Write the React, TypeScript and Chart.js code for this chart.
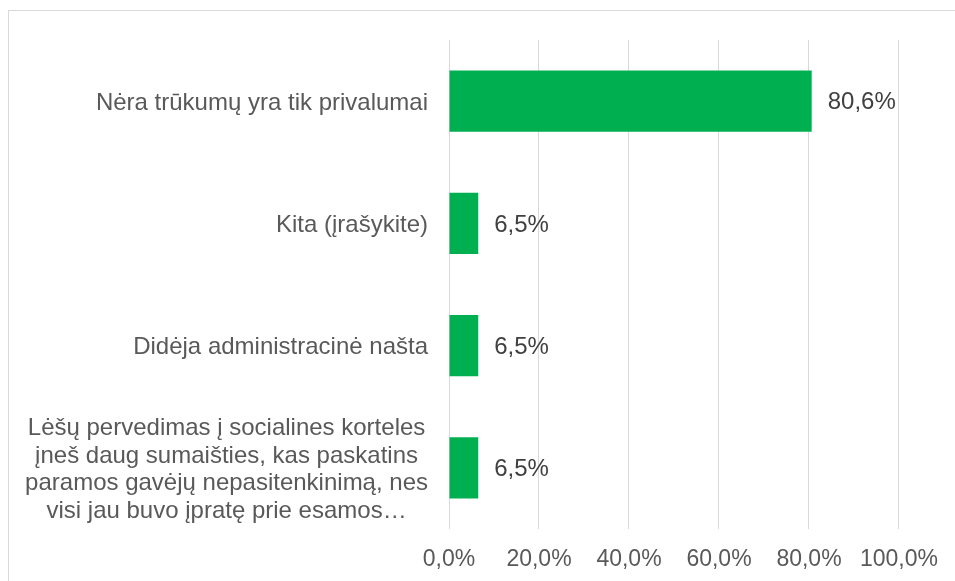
import React, { useEffect, useRef } from "react";
import { Chart, registerables } from "chart.js";

Chart.register(...registerables);

const categories: string[][] = [
  ["Nėra trūkumų yra tik privalumai"],
  ["Kita (įrašykite)"],
  ["Didėja administracinė našta"],
  [
    "Lėšų pervedimas į socialines korteles",
    "įneš daug sumaišties, kas paskatins",
    "paramos gavėjų nepasitenkinimą, nes",
    "visi jau buvo įpratę prie esamos…",
  ],
];
const values: number[] = [80.6, 6.5, 6.5, 6.5];
const valueLabels: string[] = ["80,6%", "6,5%", "6,5%", "6,5%"];
const tickLabels: string[] = ["0,0%", "20,0%", "40,0%", "60,0%", "80,0%", "100,0%"];

const FONT = "'Liberation Sans', Arial, sans-serif";

const labelPlugin = {
  id: "customLabels",
  afterDatasetsDraw(chart: any) {
    const { ctx } = chart;
    const y = chart.scales.y;
    const meta = chart.getDatasetMeta(0);
    ctx.save();
    // value labels
    ctx.font = `24px ${FONT}`;
    ctx.fillStyle = "#404040";
    ctx.textAlign = "left";
    ctx.textBaseline = "middle";
    meta.data.forEach((bar: any, i: number) => {
      ctx.fillText(valueLabels[i], bar.x + 16, bar.y + 1.5);
    });
    // category labels: block right aligned, lines centered in block
    ctx.fillStyle = "#595959";
    ctx.textAlign = "center";
    const lh = 27.5;
    const right = chart.chartArea.left - 21;
    categories.forEach((lines, i) => {
      const cy = y.getPixelForTick(i) + 2;
      const maxW = Math.max(...lines.map((l) => ctx.measureText(l).width));
      const cx = right - maxW / 2;
      const startY = cy - ((lines.length - 1) * lh) / 2;
      lines.forEach((l, k) => {
        ctx.fillText(l, cx, startY + k * lh);
      });
    });
    ctx.restore();
  },
};

export default function App() {
  const ref = useRef<HTMLCanvasElement>(null);
  useEffect(() => {
    if (!ref.current) return;
    const chart = new Chart(ref.current, {
      type: "bar",
      data: {
        labels: categories.map((c) => c.join(" ")),
        datasets: [
          {
            data: values,
            backgroundColor: "#00b050",
            borderWidth: 0,
            barPercentage: 0.5,
            categoryPercentage: 1,
          },
        ],
      },
      options: {
        indexAxis: "y",
        responsive: false,
        animation: false,
        layout: { padding: { top: 29, right: 56, left: 0, bottom: 0 } },
        plugins: { legend: { display: false }, tooltip: { enabled: false } },
        scales: {
          x: {
            min: 0,
            max: 100,
            ticks: {
              stepSize: 20,
              color: "#595959",
              font: { family: FONT, size: 23 },
              padding: 17,
              callback: (_v: any, i: number) => tickLabels[i],
            },
            grid: { color: "#d9d9d9", lineWidth: 1, drawTicks: false },
            border: { display: false },
            afterFit: (s: any) => {
              s.height = 52;
            },
          },
          y: {
            grid: { display: false, drawTicks: false },
            border: { display: false },
            ticks: { display: false },
            afterFit: (s: any) => {
              s.width = 440;
            },
          },
        },
      },
      plugins: [labelPlugin],
    });
    return () => chart.destroy();
  }, []);
  return (
    <div
      style={{
        position: "fixed",
        left: 0,
        top: 0,
        width: 955,
        height: 581,
        overflow: "hidden",
        background: "#fff",
      }}
    >
      <div
        style={{
          position: "absolute",
          left: 8,
          top: 10,
          width: 1000,
          height: 700,
          border: "1px solid #d9d9d9",
        }}
      >
        <canvas
          ref={ref}
          width={946}
          height={570}
          style={{ position: "absolute", left: 0, top: 0, width: 946, height: 570 }}
        />
      </div>
    </div>
  );
}
